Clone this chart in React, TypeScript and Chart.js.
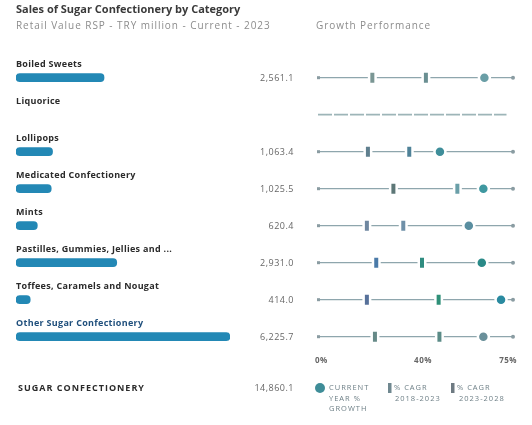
import React, { useEffect, useRef } from "react";
import { Chart, registerables } from "chart.js";
Chart.register(...registerables);

const categories = [
  "Boiled Sweets",
  "Liquorice",
  "Lollipops",
  "Medicated Confectionery",
  "Mints",
  "Pastilles, Gummies, Jellies and ...",
  "Toffees, Caramels and Nougat",
  "Other Sugar Confectionery",
];
const retailValues: (number | null)[] = [2561.1, null, 1063.4, 1025.5, 620.4, 2931.0, 414.0, 6225.7];
const currentYearGrowth: (number | null)[] = [64.0, null, 46.9, 63.6, 58.0, 63.0, 70.4, 63.6];
const cagr2018_2023: (number | null)[] = [20.9, null, 19.2, 29.0, 18.8, 22.4, 18.8, 21.9];
const cagr2023_2028: (number | null)[] = [41.5, null, 35.1, 53.6, 32.8, 40.0, 46.4, 46.7];
const growthTicks = [0, 40, 75];
const growthTickLabels = ["0%", "40%", "75%"];
const totalLabel = "SUGAR CONFECTIONERY";
const totalValue = 14860.1;
const titleText = "Sales of Sugar Confectionery by Category";
const subtitleText = "Retail Value RSP - TRY million - Current - 2023";
const growthTitle = "Growth Performance";

// styles (per row colours)
const m1Colors = ["#7a9694", "", "#5f7f8e", "#5d7777", "#6f87a0", "#4a7aa8", "#57719a", "#668a88"];
const m2Colors = ["#6a8f92", "", "#4f8298", "#6a9fa8", "#6f90a8", "#2f8c80", "#2f9078", "#5b8b87"];
const cColors = ["#6a9ea6", "", "#3f8e9a", "#3f98a0", "#5a8ea0", "#2a8a88", "#2a8aa0", "#6a909a"];

const W = 532;
const H = 425;
const PAD_TOP = 59.2;
const PAD_BOTTOM = H - 355.2;
const FONT = '"Open Sans", "DejaVu Sans", sans-serif';

const fmt = (v: number) =>
  v.toLocaleString("en-US", { minimumFractionDigits: 1, maximumFractionDigits: 1 });

function pts(arr: (number | null)[]) {
  const out: { x: number; y: number }[] = [];
  arr.forEach((v, i) => {
    if (v !== null) out.push({ x: v, y: i });
  });
  return out;
}
function cols(arr: (number | null)[], c: string[]) {
  const out: string[] = [];
  arr.forEach((v, i) => {
    if (v !== null) out.push(c[i]);
  });
  return out;
}

export default function App() {
  const barRef = useRef<HTMLCanvasElement>(null);
  const growthRef = useRef<HTMLCanvasElement>(null);

  useEffect(() => {
    const maxBar = Math.max(...(retailValues.filter((v) => v !== null) as number[]));
    const barChart = new Chart(barRef.current!, {
      type: "bar",
      data: {
        labels: categories,
        datasets: [
          {
            data: retailValues as any,
            backgroundColor: "#2388b5",
            barThickness: 8,
            borderRadius: 4,
            borderSkipped: false,
          },
        ],
      },
      options: {
        indexAxis: "y",
        responsive: false,
        animation: false,
        events: [],
        layout: { padding: { left: 16, right: W - 230, top: PAD_TOP, bottom: PAD_BOTTOM } },
        plugins: { legend: { display: false }, tooltip: { enabled: false } },
        scales: {
          x: { display: false, min: 0, max: maxBar },
          y: { display: false },
        },
      },
    });

    const setLS = (ctx: any, v: string) => {
      ctx.letterSpacing = v;
    };

    const textPlugin = {
      id: "texts",
      beforeDatasetsDraw(chart: any) {
        const ctx = chart.ctx as CanvasRenderingContext2D;
        const x = chart.scales.x;
        const y = chart.scales.y;
        const x0 = x.getPixelForValue(growthTicks[0]);
        const x1 = x.getPixelForValue(growthTicks[growthTicks.length - 1]);
        ctx.save();
        categories.forEach((_, i) => {
          const yy = y.getPixelForValue(i);
          if (currentYearGrowth[i] === null) {
            ctx.strokeStyle = "#9db5b8";
            ctx.lineWidth = 1.8;
            ctx.setLineDash([14, 2]);
            ctx.beginPath();
            ctx.moveTo(x0, yy);
            ctx.lineTo(x.getPixelForValue(72.5), yy);
            ctx.stroke();
            ctx.setLineDash([]);
            return;
          }
          ctx.strokeStyle = "#8ea6ad";
          ctx.lineWidth = 1.2;
          ctx.beginPath();
          ctx.moveTo(x0, yy);
          ctx.lineTo(x1, yy);
          ctx.stroke();
          ctx.fillStyle = "#8a9ca2";
          ctx.fillRect(x0 - 1, yy - 1.5, 3, 3);
          ctx.beginPath();
          ctx.arc(x1, yy, 2, 0, Math.PI * 2);
          ctx.fill();
        });
        ctx.restore();
      },
      afterDraw(chart: any) {
        const ctx = chart.ctx as CanvasRenderingContext2D;
        const x = chart.scales.x;
        const y = chart.scales.y;
        ctx.save();
        ctx.textBaseline = "middle";
        // title
        ctx.fillStyle = "#3a3a3a";
        ctx.font = `bold 11px ${FONT}`;
        ctx.textAlign = "left";
        ctx.fillText(titleText, 16, 10);
        ctx.fillStyle = "#8c8c8c";
        ctx.font = `10px ${FONT}`;
        setLS(ctx, "0.95px");
        ctx.fillText(subtitleText, 16, 26);
        ctx.fillText(growthTitle, 316, 26);
        setLS(ctx, "0px");
        // category labels and values
        categories.forEach((c, i) => {
          const yy = y.getPixelForValue(i);
          ctx.textAlign = "left";
          ctx.font = `bold 9px ${FONT}`;
          ctx.fillStyle = i === categories.length - 1 ? "#1f4f7c" : "#2b2b2b";
          setLS(ctx, "0.3px");
          ctx.fillText(c, 16, yy - 13);
          setLS(ctx, "0px");
          const v = retailValues[i];
          if (v !== null) {
            ctx.textAlign = "right";
            ctx.font = `9px ${FONT}`;
            ctx.fillStyle = "#666";
            setLS(ctx, "0.5px");
            ctx.fillText(fmt(v), 294, yy + 0.5);
            setLS(ctx, "0px");
          }
        });
        // growth ticks
        ctx.font = `bold 8px ${FONT}`;
        ctx.fillStyle = "#666";
        setLS(ctx, "0.5px");
        growthTicks.forEach((t, i) => {
          const px = x.getPixelForValue(t);
          ctx.textAlign = i === 0 ? "left" : i === growthTicks.length - 1 ? "right" : "center";
          const off = i === 0 ? -3 : i === growthTicks.length - 1 ? 4 : 1;
          ctx.fillText(growthTickLabels[i], px + off, 361);
        });
        // total row
        ctx.textAlign = "left";
        ctx.font = `bold 9px ${FONT}`;
        ctx.fillStyle = "#2b2b2b";
        setLS(ctx, "1px");
        ctx.fillText(totalLabel, 18, 388);
        ctx.textAlign = "right";
        ctx.font = `9px ${FONT}`;
        ctx.fillStyle = "#666";
        setLS(ctx, "0.5px");
        ctx.fillText(fmt(totalValue), 294, 388);
        // legend
        ctx.textAlign = "left";
        ctx.font = `7.5px ${FONT}`;
        setLS(ctx, "1px");
        ctx.fillStyle = "#3f8d98";
        ctx.beginPath();
        ctx.arc(320, 388, 5, 0, Math.PI * 2);
        ctx.fill();
        ctx.fillStyle = "#6d7f86";
        ctx.fillText("CURRENT", 329, 388);
        ctx.fillText("YEAR %", 329, 398.5);
        ctx.fillText("GROWTH", 329, 409);
        ctx.fillStyle = "#708890";
        ctx.fillRect(388, 383, 3.5, 10);
        ctx.fillStyle = "#6d7f86";
        ctx.fillText("% CAGR", 394, 388);
        ctx.fillText("2018-2023", 395, 398.5);
        ctx.fillStyle = "#6e7a82";
        ctx.fillRect(451, 383, 3.5, 10);
        ctx.fillStyle = "#6d7f86";
        ctx.fillText("% CAGR", 457, 388);
        ctx.fillText("2023-2028", 459, 398.5);
        ctx.restore();
      },
    };

    const backing = (arr: (number | null)[]) => ({
      data: pts(arr),
      pointStyle: "line" as const,
      rotation: 90,
      radius: 6.5,
      borderWidth: 9,
      borderColor: "#ffffff",
      backgroundColor: "#ffffff",
      order: 3,
    });

    const growthChart = new Chart(growthRef.current!, {
      type: "scatter",
      data: {
        datasets: [
          {
            data: pts(currentYearGrowth),
            pointStyle: "circle",
            radius: 5.5,
            borderWidth: 2.5,
            borderColor: "#ffffff",
            backgroundColor: cols(currentYearGrowth, cColors),
            order: 1,
          },
          {
            data: pts(cagr2018_2023),
            pointStyle: "line",
            rotation: 90,
            radius: 5,
            borderWidth: 4,
            borderColor: cols(cagr2018_2023, m1Colors),
            order: 2,
          },
          {
            data: pts(cagr2023_2028),
            pointStyle: "line",
            rotation: 90,
            radius: 5,
            borderWidth: 4,
            borderColor: cols(cagr2023_2028, m2Colors),
            order: 2,
          },
          backing(cagr2018_2023),
          backing(cagr2023_2028),
        ] as any,
      },
      options: {
        responsive: false,
        animation: false,
        events: [],
        layout: { padding: { left: 318, right: W - 513, top: PAD_TOP, bottom: PAD_BOTTOM } },
        plugins: { legend: { display: false }, tooltip: { enabled: false } },
        scales: {
          x: { type: "linear", display: false, min: growthTicks[0], max: growthTicks[growthTicks.length - 1] },
          y: { type: "linear", display: false, min: -0.5, max: categories.length - 0.5, reverse: true },
        },
      },
      plugins: [textPlugin as any],
    });

    return () => {
      barChart.destroy();
      growthChart.destroy();
    };
  }, []);

  return (
    <div style={{ position: "absolute", left: 0, top: 0, width: W, height: H, background: "#fff" }}>
      <canvas ref={barRef} width={W} height={H} style={{ position: "absolute", left: 0, top: 0 }} />
      <canvas ref={growthRef} width={W} height={H} style={{ position: "absolute", left: 0, top: 0 }} />
    </div>
  );
}
